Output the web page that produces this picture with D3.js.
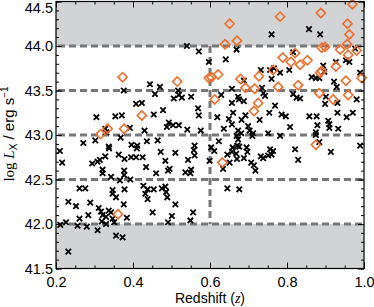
<!DOCTYPE html>
<html>
<head>
<meta charset="utf-8">
<script src="https://cdn.jsdelivr.net/npm/d3@7"></script>
<style>
  body { margin: 0; background: #fff; }
  svg { display: block; }
  .tick text { font-family: "Liberation Sans", Arial, sans-serif; font-size: 14.5px; }
</style>
</head>
<body>
<svg id="chart" width="374" height="307"></svg>
<script>
// x-ray sources: [redshift, log Lx]
const crosses = [
  [0.444,43.57],[0.457,43.46],[0.376,43.50],[0.408,43.35],[0.423,43.36],[0.454,43.23],[0.305,43.20],[0.354,43.21],
  [0.371,43.22],[0.328,43.07],[0.331,43.03],[0.392,43.08],[0.430,43.05],[0.302,42.94],[0.271,42.91],[0.337,42.87],
  [0.368,42.97],[0.396,42.89],[0.411,42.88],[0.436,42.93],[0.464,42.94],[0.470,43.54],[0.478,43.28],[0.210,42.82],
  [0.216,42.69],[0.294,42.68],[0.308,42.70],[0.314,42.72],[0.328,42.76],[0.338,42.85],[0.363,42.78],[0.378,42.73],
  [0.395,42.75],[0.408,42.75],[0.410,42.85],[0.434,42.64],[0.460,42.57],[0.321,42.61],[0.321,42.57],[0.343,42.53],
  [0.377,42.60],[0.377,42.55],[0.393,42.50],[0.366,42.49],[0.261,42.40],[0.276,42.40],[0.347,42.38],[0.347,42.34],
  [0.356,42.30],[0.378,42.39],[0.427,42.43],[0.438,42.39],[0.454,42.39],[0.432,42.34],[0.438,42.28],[0.232,42.25],
  [0.252,42.20],[0.289,42.24],[0.376,42.22],[0.311,42.18],[0.317,42.14],[0.337,42.15],[0.343,42.13],[0.284,42.10],
  [0.321,42.10],[0.330,42.08],[0.347,42.06],[0.384,42.07],[0.451,42.13],[0.261,42.06],[0.226,42.02],[0.211,41.99],
  [0.319,42.03],[0.351,42.02],[0.256,41.98],[0.280,41.97],[0.308,41.93],[0.356,41.87],[0.373,41.85],[0.232,41.69],
  [0.425,42.75],[0.330,42.00],
  [0.540,44.00],[0.571,43.94],[0.669,43.96],[0.597,43.82],[0.641,43.85],[0.688,43.61],[0.732,43.73],[0.517,43.50],
  [0.519,43.45],[0.527,43.42],[0.506,43.41],[0.551,43.43],[0.629,43.45],[0.673,43.43],[0.675,43.40],[0.657,43.36],
  [0.688,43.38],[0.569,43.30],[0.571,43.22],[0.619,43.20],[0.649,43.18],[0.660,43.25],[0.692,43.22],[0.493,43.14],
  [0.504,43.11],[0.519,43.11],[0.488,43.09],[0.541,43.06],[0.576,43.05],[0.636,43.07],[0.657,43.12],[0.673,43.05],
  [0.681,43.02],[0.669,42.99],[0.673,42.95],[0.703,43.05],[0.712,43.02],[0.710,42.99],[0.560,42.88],[0.623,42.93],
  [0.671,42.88],[0.729,43.17],[0.659,42.86],[0.676,42.87],[0.682,43.17],[0.699,43.10],[0.611,42.82],
  [0.603,42.86],[0.657,43.52],[0.695,42.86],
  [0.472,42.81],[0.484,42.71],[0.510,42.80],[0.558,42.83],[0.543,42.72],[0.560,42.77],[0.495,42.62],[0.491,42.60],
  [0.536,42.58],[0.551,42.61],[0.549,42.57],[0.599,42.71],[0.634,42.62],[0.651,42.69],[0.657,42.81],[0.670,42.73],
  [0.688,42.74],[0.697,42.81],[0.707,42.69],[0.714,42.66],[0.718,42.60],[0.475,42.40],[0.484,42.42],[0.486,42.36],
  [0.489,42.30],[0.645,42.40],[0.676,42.39],[0.510,42.22],[0.556,42.13],[0.501,42.09],[0.491,42.02],[0.549,42.04],
  [0.645,42.78],[0.668,42.79],[0.732,42.76],[0.738,42.74],
  [0.760,44.13],[0.857,44.19],[0.886,44.13],[0.816,43.93],[0.977,43.97],[0.927,43.82],[0.953,43.84],[0.962,43.82],
  [0.894,43.78],[0.756,43.73],[0.766,43.75],[0.782,43.70],[0.806,43.73],[0.897,43.71],[0.990,43.70],[0.760,43.63],
  [0.864,43.65],[0.875,43.64],[0.884,43.64],[0.922,43.60],[0.735,43.53],[0.739,43.47],[0.743,43.44],[0.929,43.54],
  [0.816,43.46],[0.825,43.42],[0.834,43.41],[0.901,43.43],[0.769,43.33],[0.899,43.35],[0.931,43.36],[0.981,43.40],
  [0.754,43.25],[0.931,43.25],[0.971,43.25],[0.786,43.23],[0.797,43.21],[0.858,43.21],[0.877,43.21],[0.955,43.20],
  [0.907,43.16],[0.910,43.12],[0.910,43.08],[0.808,43.09],[0.879,43.11],[0.875,43.03],[0.875,43.00],[0.751,43.02],
  [0.782,42.99],[0.933,43.07],[0.884,42.92],[0.990,42.88],
  [0.756,42.84],[0.764,42.82],[0.751,42.77],[0.760,42.78],[0.821,42.84],[0.829,42.72],[0.914,42.81]
];

const diamonds = [
  [0.373,43.65],[0.423,43.22],[0.334,43.07],[0.316,43.01],[0.377,43.07],[0.361,42.11],[0.651,44.25],[0.639,44.02],
  [0.670,44.06],[0.515,43.60],[0.597,43.64],[0.604,43.65],[0.621,43.68],[0.679,43.63],[0.727,43.66],[0.692,43.53],
  [0.716,43.52],[0.612,43.40],[0.725,43.36],[0.714,43.27],[0.782,44.33],[0.888,44.37],[0.970,44.47],[0.957,44.25],
  [0.962,44.13],[0.956,44.02],[0.890,43.98],[0.899,43.99],[0.821,43.92],[0.938,43.96],[0.981,43.95],[0.959,43.90],
  [0.789,43.87],[0.810,43.82],[0.834,43.79],[0.853,43.84],[0.927,43.77],[0.890,43.72],[0.886,43.70],[0.994,43.64],
  [0.764,43.73],[0.953,43.61],[0.777,43.54],[0.829,43.56],[0.884,43.47],[0.959,43.45],[0.920,43.40],[0.875,42.89],
  [0.632,42.69]
];

const xDomain = [0.2, 1.0];
const yDomain = [41.5, 44.5];
const xLabels = [0.2, 0.4, 0.6, 0.8, 1.0];
const yLabels = [41.5, 42.0, 42.5, 43.0, 43.5, 44.0, 44.5];
const dashLevels = [42.0, 42.5, 43.0, 43.5, 44.0];
const grayBands = [[41.5, 42.0], [44.0, 44.5]];
const zCut = 0.6;

const margin = { left: 56, right: 364, top: 1.5, bottom: 268.5 };

const x = d3.scaleLinear().domain(xDomain).range([margin.left, margin.right]);
const y = d3.scaleLinear().domain(yDomain).range([margin.bottom, margin.top]);

const svg = d3.select("#chart");

svg.selectAll(".band")
  .data(grayBands)
  .join("rect")
  .attr("x", margin.left)
  .attr("width", margin.right - margin.left)
  .attr("y", d => y(d[1]))
  .attr("height", d => y(d[0]) - y(d[1]))
  .attr("fill", "#d2d3d5");

const dashStyle = s => s.attr("stroke", "#777")
  .attr("stroke-width", 3)
  .attr("stroke-dasharray", "7,4");

svg.selectAll(".hdash")
  .data(dashLevels)
  .join("line")
  .attr("x1", margin.left + 2).attr("x2", margin.right)
  .attr("y1", d => y(d)).attr("y2", d => y(d))
  .call(dashStyle);

svg.append("line")
  .attr("x1", x(zCut)).attr("x2", x(zCut))
  .attr("y1", y(44.0)).attr("y2", y(42.0))
  .call(dashStyle);

const cs = 2.7;
svg.append("g")
  .selectAll("path")
  .data(crosses)
  .join("path")
  .attr("transform", d => `translate(${x(d[0])},${y(d[1])})`)
  .attr("d", `M${-cs},${-cs}L${cs},${cs}M${-cs},${cs}L${cs},${-cs}`)
  .attr("stroke", "#000")
  .attr("stroke-width", 1.8)
  .attr("fill", "none");

const dr = 4.6;
svg.append("g")
  .selectAll("path")
  .data(diamonds)
  .join("path")
  .attr("transform", d => `translate(${x(d[0])},${y(d[1])})`)
  .attr("d", `M0,${-dr}L${dr},0L0,${dr}L${-dr},0Z`)
  .attr("stroke", "#f26d2a")
  .attr("stroke-width", 1.6)
  .attr("fill", "none");

// axes, ticks pointing inwards on all four sides
const xMinor = d3.range(0.2, 1.0001, 0.05);
const yMinor = d3.range(41.5, 44.5001, 0.1);

svg.append("g")
  .attr("transform", `translate(0,${margin.bottom})`)
  .call(d3.axisBottom(x).tickValues(xMinor).tickSize(-3).tickFormat(""))
  .call(g => g.select(".domain").remove());
svg.append("g")
  .attr("transform", `translate(0,${margin.bottom})`)
  .call(d3.axisBottom(x).tickValues(xLabels).tickSize(-6).tickPadding(8).tickFormat(d3.format(".1f")))
  .call(g => g.select(".domain").remove());
svg.append("g")
  .attr("transform", `translate(0,${margin.top})`)
  .call(d3.axisTop(x).tickValues(xMinor).tickSize(-3).tickFormat(""))
  .call(g => g.select(".domain").remove());
svg.append("g")
  .attr("transform", `translate(0,${margin.top})`)
  .call(d3.axisTop(x).tickValues(xLabels).tickSize(-6).tickFormat(""))
  .call(g => g.select(".domain").remove());

svg.append("g")
  .attr("transform", `translate(${margin.left},0)`)
  .call(d3.axisLeft(y).tickValues(yMinor).tickSize(-3).tickFormat(""))
  .call(g => g.select(".domain").remove());
svg.append("g")
  .attr("transform", `translate(${margin.left},0)`)
  .call(d3.axisLeft(y).tickValues(yLabels).tickSize(-6).tickPadding(3).tickFormat(d3.format(".1f")))
  .call(g => g.select(".domain").remove())
  .call(g => g.selectAll(".tick text").filter(d => d === 44.5).attr("dy", "0.78em"));
svg.append("g")
  .attr("transform", `translate(${margin.right},0)`)
  .call(d3.axisRight(y).tickValues(yMinor).tickSize(-3).tickFormat(""))
  .call(g => g.select(".domain").remove());
svg.append("g")
  .attr("transform", `translate(${margin.right},0)`)
  .call(d3.axisRight(y).tickValues(yLabels).tickSize(-6).tickFormat(""))
  .call(g => g.select(".domain").remove());

svg.selectAll(".tick line").attr("stroke", "#000");
svg.selectAll(".tick text").attr("fill", "#000");

svg.append("rect")
  .attr("x", margin.left).attr("y", margin.top)
  .attr("width", margin.right - margin.left).attr("height", margin.bottom - margin.top)
  .attr("fill", "none").attr("stroke", "#000").attr("stroke-width", 1.2);

// axis titles
const xt = svg.append("text")
  .attr("x", (margin.left + margin.right) / 2)
  .attr("y", 302.5)
  .attr("text-anchor", "middle")
  .style("font-family", "Liberation Sans, Arial, sans-serif")
  .style("font-size", "14px");
xt.append("tspan").text("Redshift (");
xt.append("tspan").text("z").style("font-family", "Liberation Serif, serif").style("font-style", "italic");
xt.append("tspan").text(")");

const yt = svg.append("text")
  .attr("transform", "translate(14,134) rotate(-90)")
  .attr("text-anchor", "middle")
  .style("font-family", "Liberation Sans, Arial, sans-serif")
  .style("font-size", "15px");
yt.append("tspan").text("log ").style("font-family", "Liberation Serif, serif");
yt.append("tspan").text("L").style("font-family", "Liberation Serif, serif").style("font-style", "italic");
yt.append("tspan").text("X").attr("dy", 3).style("font-size", "10px");
yt.append("tspan").text(" / erg s").attr("dy", -3);
yt.append("tspan").text("\u22121").attr("dy", -6).style("font-size", "10px");
</script>
</body>
</html>
